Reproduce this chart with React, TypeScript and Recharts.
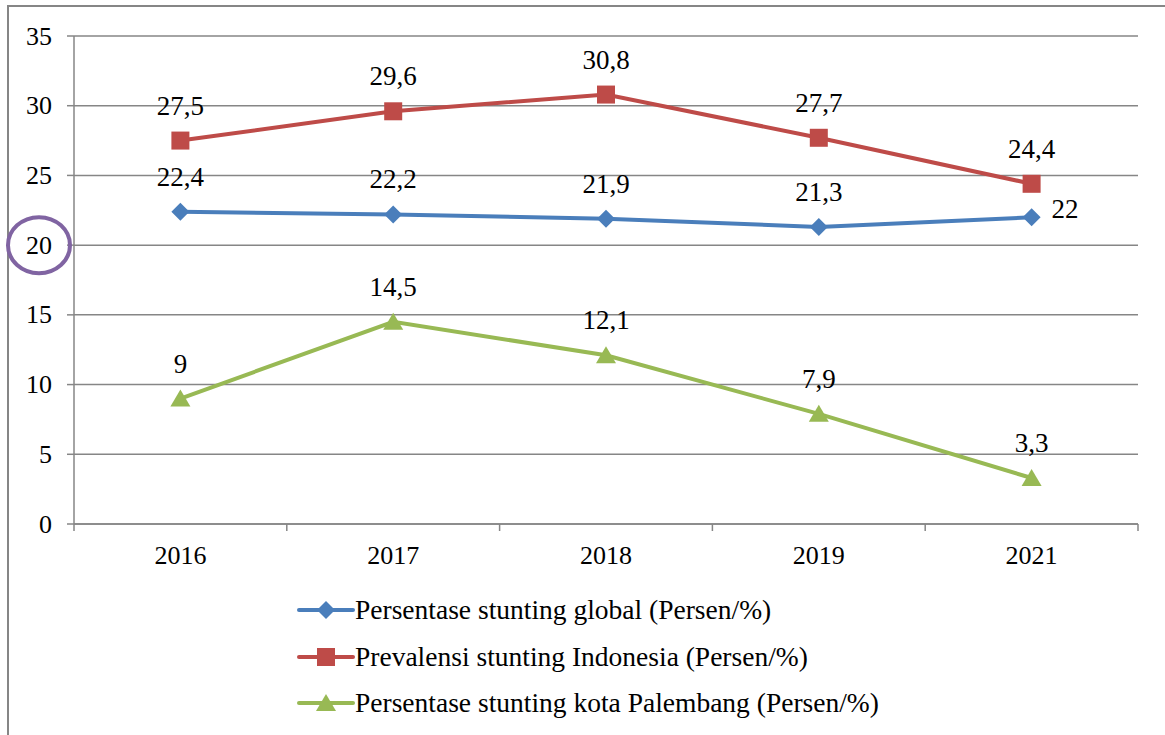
import React from 'react';
import { LineChart, Line, XAxis, YAxis, CartesianGrid, Legend, LabelList } from 'recharts';

const years = ['2016', '2017', '2018', '2019', '2021'];
const globalVals = [22.4, 22.2, 21.9, 21.3, 22];
const indoVals = [27.5, 29.6, 30.8, 27.7, 24.4];
const plbVals = [9, 14.5, 12.1, 7.9, 3.3];
const yTicks = [0, 5, 10, 15, 20, 25, 30, 35];
const seriesKeys = ['global', 'indo', 'plb'];
const seriesNames = [
  'Persentase stunting global (Persen/%)',
  'Prevalensi stunting Indonesia (Persen/%)',
  'Persentase stunting kota Palembang (Persen/%)',
];
const seriesColors = ['#4A7EBB', '#BE4B48', '#98B954'];
const circledTick = 20;

const data = years.map((y, i) => ({ year: y, global: globalVals[i], indo: indoVals[i], plb: plbVals[i] }));

const FONT = 'Liberation Serif, Times New Roman, serif';
const GRID = '#868686';
const fmt = (v: number) => String(v).replace('.', ',');

const Marker = ({ kind, cx, cy, color }: any) => {
  if (kind === 0) {
    return <polygon points={`${cx},${cy - 9} ${cx + 9},${cy} ${cx},${cy + 9} ${cx - 9},${cy}`} fill={color} />;
  }
  if (kind === 1) {
    return <rect x={cx - 9} y={cy - 9} width={18} height={18} fill={color} />;
  }
  return <polygon points={`${cx},${cy - 9} ${cx + 10},${cy + 8} ${cx - 10},${cy + 8}`} fill={color} />;
};

const makeDot = (kind: number) => (props: any) => {
  const { cx, cy, index } = props;
  if (cx == null || cy == null) return <g key={index} />;
  return <Marker key={index} kind={kind} cx={cx} cy={cy} color={seriesColors[kind]} />;
};

const makeLabel = (kind: number) => (props: any) => {
  const { x, y, value, index } = props;
  if (kind === 0 && index === years.length - 1) {
    return (
      <text x={x + 20} y={y - 8} textAnchor="start" dominantBaseline="central" style={{ fontFamily: FONT }} fontSize={27} fill="#000">
        {fmt(value)}
      </text>
    );
  }
  return (
    <text x={x} y={y - 35} textAnchor="middle" dominantBaseline="central" style={{ fontFamily: FONT }} fontSize={27} fill="#000">
      {fmt(value)}
    </text>
  );
};

const YTick = (props: any) => {
  const { x, y, payload } = props;
  return (
    <g>
      {payload.value === circledTick && (
        <ellipse cx={x - 13} cy={y} rx={31} ry={28} fill="none" stroke="#8064A2" strokeWidth={4} />
      )}
      <text x={x} y={y} textAnchor="end" dominantBaseline="central" style={{ fontFamily: FONT }} fontSize={26} fill="#000">
        {payload.value}
      </text>
    </g>
  );
};

const XTick = (props: any) => {
  const { x, y, payload, index, width, visibleTicksCount } = props;
  const band = width / (visibleTicksCount || years.length);
  return (
    <g>
      <line x1={x - band / 2} y1={y} x2={x - band / 2} y2={y + 7} stroke={GRID} strokeWidth={1.5} />
      {index === years.length - 1 && (
        <line x1={x + band / 2} y1={y} x2={x + band / 2} y2={y + 7} stroke={GRID} strokeWidth={1.5} />
      )}
      <text x={x} y={y + 31} textAnchor="middle" dominantBaseline="central" style={{ fontFamily: FONT }} fontSize={26} fill="#000">
        {payload.value}
      </text>
    </g>
  );
};

const LegendContent = () => (
  <div style={{ position: 'absolute', left: 297, top: 587, fontSize: 27.5, color: '#000', fontFamily: FONT }}>
    {seriesNames.map((n, i) => (
      <div key={n} style={{ display: 'flex', alignItems: 'center', height: 46.5, whiteSpace: 'nowrap' }}>
        <svg width={58} height={24} style={{ marginRight: 0 }}>
          <line x1={2} y1={12} x2={56} y2={12} stroke={seriesColors[i]} strokeWidth={4} strokeLinecap="round" />
          <Marker kind={i} cx={29} cy={12} color={seriesColors[i]} />
        </svg>
        <span>{n}</span>
      </div>
    ))}
  </div>
);

export default function App() {
  return (
    <div style={{ position: 'absolute', left: 0, top: 0, width: 1165, height: 735, background: '#fff', overflow: 'hidden' }}>
      <div
        style={{
          position: 'absolute',
          left: 7,
          top: 5,
          width: 1200,
          height: 800,
          borderLeft: `2px solid ${GRID}`,
          borderTop: `2px solid ${GRID}`,
        }}
      />
      <div style={{ position: 'absolute', left: 0, top: 0 }}>
        <LineChart width={1165} height={735} data={data} margin={{ top: 36, right: 27, left: 14, bottom: 181 }}>
          <CartesianGrid vertical={false} stroke={GRID} strokeWidth={1.5} />
          <XAxis
            dataKey="year"
            scale="band"
            height={30}
            tick={<XTick />}
            tickLine={false}
            tickSize={0}
            tickMargin={0}
            axisLine={{ stroke: GRID, strokeWidth: 1.5 }}
            interval={0}
          />
          <YAxis
            width={60}
            domain={[0, 35]}
            ticks={yTicks}
            interval={0}
            tick={<YTick />}
            tickSize={7}
            tickMargin={15}
            tickLine={{ stroke: GRID, strokeWidth: 1.5 }}
            axisLine={{ stroke: GRID, strokeWidth: 1.5 }}
          />
          <Legend
            content={<LegendContent />}
            wrapperStyle={{ position: 'absolute', left: 0, top: 0, width: 0, height: 0, overflow: 'visible' }}
          />
          {seriesKeys.map((k, i) => (
            <Line
              key={k}
              dataKey={k}
              name={seriesNames[i]}
              stroke={seriesColors[i]}
              strokeWidth={4}
              dot={makeDot(i)}
              activeDot={false}
              isAnimationActive={false}
            >
              <LabelList dataKey={k} content={makeLabel(i)} />
            </Line>
          ))}
        </LineChart>
      </div>
    </div>
  );
}
